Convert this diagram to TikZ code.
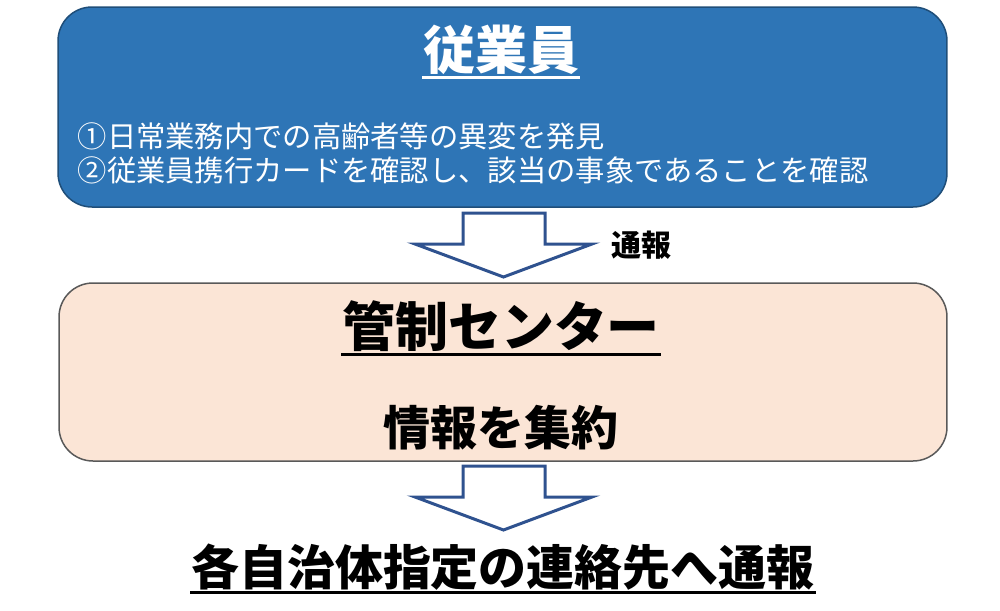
\documentclass[tikz,border=0pt]{standalone}
\usepackage{fontspec}
\setmainfont{Noto Sans CJK JP}
\definecolor{empblue}{HTML}{2E75B6}
\definecolor{empedge}{HTML}{1F4E79}
\definecolor{ctrfill}{HTML}{FBE5D6}
\definecolor{ctredge}{HTML}{595959}
\definecolor{arredge}{HTML}{2F528F}

\begin{document}
\begin{tikzpicture}[x = 0.1mm, y = -0.1mm,
	box/.style = {rounded corners = 3.4mm, line width = 0.15mm, inner sep = 0},
	title/.style = {inner sep = 0, font = \bfseries\fontsize{5.2mm}{5.2mm}\selectfont},
	item/.style = {inner sep = 0, anchor = west, text = white, font = \fontsize{2.93mm}{2.93mm}\selectfont},
	uline/.style = {line width = 0.3mm},
	blockarr/.style = {draw = arredge, fill = white, line width = 0.3mm, line join = miter}]
	\useasboundingbox (0,0) rectangle (1000,611);
	% boxes
	\node[box, draw = empedge, fill = empblue, minimum width = 88.9mm, minimum height = 20mm] (emp) at (502.5,107) {};
	\node[box, draw = ctredge, fill = ctrfill, minimum width = 88.8mm, minimum height = 17.8mm] (ctr) at (503,372) {};
	% texts
	\node[title, text = white] (empT) at (501,50) {従業員};
	\node[item] (item1) at (77,136) {①日常業務内での高齢者等の異変を発見};
	\node[item] (item2) at (77,170) {②従業員携行カードを確認し、該当の事象であることを確認};
	\node[title, font = \bfseries\fontsize{5.3mm}{5.3mm}\selectfont] (ctrT) at (501,326) {管制センター};
	\node[title, font = \bfseries\fontsize{4.7mm}{4.7mm}\selectfont] (ctrS) at (501,428) {情報を集約};
	\node[title, font = \bfseries\fontsize{3mm}{3mm}\selectfont] (call) at (641,245) {通報};
	\node[title, font = \bfseries\fontsize{4.8mm}{4.8mm}\selectfont] (dest) at (503,567) {各自治体指定の連絡先へ通報};
	\draw[uline, white] ([yshift = -0.2mm]empT.south west) -- ([yshift = -0.2mm]empT.south east);
	\draw[uline] ([yshift = -0.2mm]ctrT.south west) -- ([yshift = -0.2mm]ctrT.south east);
	\draw[uline] ([yshift = -0.2mm]dest.south west) -- ([yshift = -0.2mm]dest.south east);
	% arrows
	\foreach \y in {213,466}
		\draw[blockarr] (463,\y) -- ++(82,0) -- ++(0,31) -- ++(47,0) -- (503.5,\y+64) -- (415,\y+31) -- ++(48,0) -- cycle;
\end{tikzpicture}
\end{document}
